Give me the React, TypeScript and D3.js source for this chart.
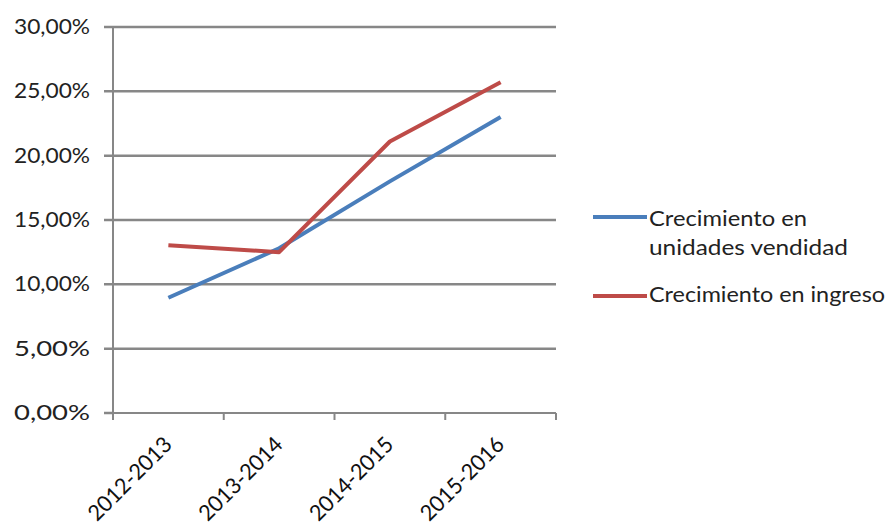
import React from "react";
import * as d3 from "d3";

const periods = ["2012-2013", "2013-2014", "2014-2015", "2015-2016"];
const unidades = [0.0896, 0.128, 0.180, 0.230];
const ingreso = [0.1303, 0.125, 0.211, 0.257];
const yTicks = [0, 0.05, 0.1, 0.15, 0.2, 0.25, 0.3];
const seriesNames = ["Crecimiento en unidades vendidad", "Crecimiento en ingreso"];
const seriesColors = ["#4a7ebb", "#be4b48"];

const W = 890;
const H = 525;
const left = 113;
const right = 556;
const top = 27;
const bottom = 413;
const FONT = "Lato, 'Open Sans', sans-serif";

export default function App() {
  const x = d3.scaleBand<string>().domain(periods).range([left, right]);
  const y = d3.scaleLinear().domain([0, 0.3]).range([bottom, top]);
  const line = d3
    .line<number>()
    .x((_, i) => (x(periods[i]) as number) + x.bandwidth() / 2)
    .y((d) => y(d));
  const fmt = (v: number) => (v * 100).toFixed(2).replace(".", ",") + "%";
  const boundaries = periods.map((p) => x(p) as number).concat([right]);

  return (
    <svg
      width={W}
      height={H}
      style={{ position: "absolute", left: 0, top: 0, background: "#fff" }}
      fontFamily={FONT}
    >
      {/* horizontal gridlines with left tick stubs */}
      {yTicks.map((t) => (
        <g key={t}>
          <line x1={104} x2={t === 0 ? left : right} y1={y(t)} y2={y(t)} stroke="#878787" strokeWidth={2.5} />
          <text x={90} y={y(t) + 7} textAnchor="end" fontSize={21} fill="#222" textLength={76} lengthAdjust="spacingAndGlyphs">
            {fmt(t)}
          </text>
        </g>
      ))}
      {/* axes */}
      <line x1={left} x2={left} y1={top} y2={bottom} stroke="#878787" strokeWidth={2} />
      <line x1={left} x2={right} y1={bottom} y2={bottom} stroke="#878787" strokeWidth={2} />
      {boundaries.map((b, i) => (
        <line key={i} x1={b} x2={b} y1={bottom} y2={bottom + 7} stroke="#878787" strokeWidth={2} />
      ))}
      {periods.map((p) => {
        const cx = (x(p) as number) + x.bandwidth() / 2;
        return (
          <text
            key={p}
            transform={`translate(${cx + 5},${bottom + 33}) rotate(-45)`}
            textAnchor="end"
            fontSize={22}
            fill="#111"
            textLength={108}
            lengthAdjust="spacingAndGlyphs"
          >
            {p}
          </text>
        );
      })}
      {/* series */}
      <path d={line(unidades) ?? ""} fill="none" stroke={seriesColors[0]} strokeWidth={4} strokeLinejoin="round" />
      <path d={line(ingreso) ?? ""} fill="none" stroke={seriesColors[1]} strokeWidth={4} strokeLinejoin="round" />
      {/* legend */}
      <line x1={593} x2={647} y1={217} y2={217} stroke={seriesColors[0]} strokeWidth={4} />
      <text x={649} y={226} fontSize={21} fill="#222" textLength={158} lengthAdjust="spacingAndGlyphs">
        Crecimiento en
      </text>
      <text x={649} y={255} fontSize={21} fill="#222" textLength={199} lengthAdjust="spacingAndGlyphs">
        unidades vendidad
      </text>
      <line x1={593} x2={647} y1={296} y2={296} stroke={seriesColors[1]} strokeWidth={4} />
      <text x={649} y={302} fontSize={21} fill="#222" textLength={236} lengthAdjust="spacingAndGlyphs">
        {seriesNames[1]}
      </text>
    </svg>
  );
}
